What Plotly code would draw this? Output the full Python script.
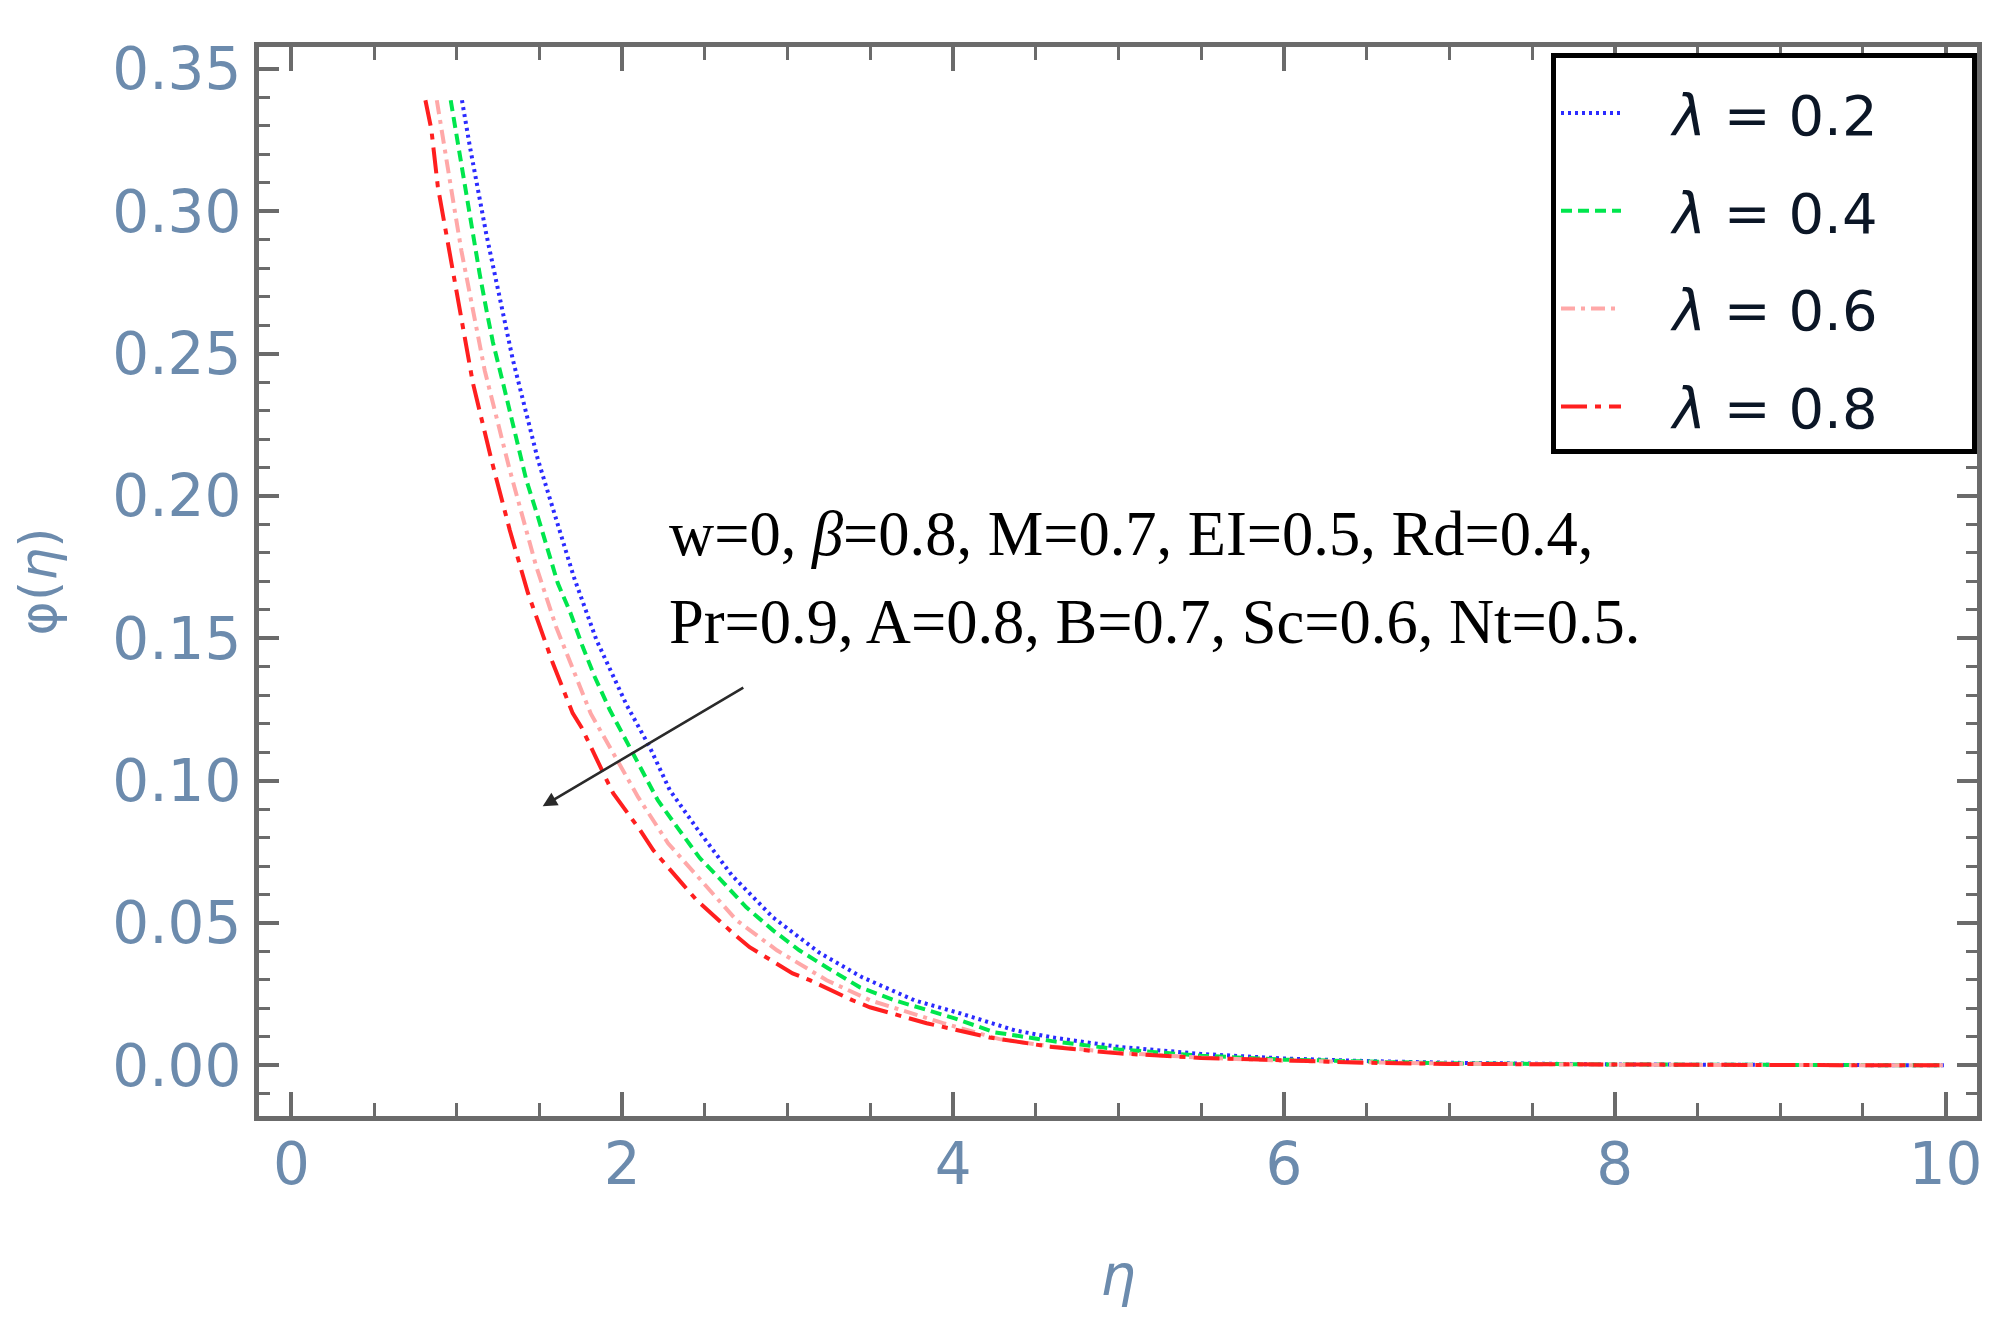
import plotly.graph_objects as go

# ---------------- data ----------------
eta_l02 = [1.031, 1.078, 1.178, 1.248, 1.338, 1.489, 1.64, 1.707, 1.844, 2.027, 2.166, 2.287,
           2.45, 2.662, 2.91, 3.195, 3.448, 3.768, 4.04, 4.373, 4.6, 5.0, 5.5, 6.0, 6.5, 7.0,
           8.0, 9.0, 10.0]
phi_l02 = [0.339, 0.323, 0.292, 0.272, 0.248, 0.213, 0.1845, 0.1716, 0.1494, 0.1265, 0.1118,
           0.0967, 0.0833, 0.0668, 0.052, 0.0394, 0.031, 0.0228, 0.0183, 0.0123, 0.0098,
           0.0065, 0.0040, 0.0024, 0.0015, 0.0009, 0.0003, 0.0001, 0.0]

eta_l04 = [0.963, 0.997, 1.03, 1.066, 1.097, 1.138, 1.18, 1.218, 1.279, 1.42, 1.49, 1.61,
           1.687, 1.761, 1.834, 1.925, 2.016, 2.118, 2.215, 2.336, 2.469, 2.61, 2.75, 2.91,
           3.07, 3.244, 3.437, 3.649, 4.01, 4.25, 4.6, 5.0, 5.5, 6.0, 6.5, 7.0, 8.0, 9.0, 10.0]
phi_l04 = [0.339, 0.327, 0.315, 0.302, 0.291, 0.278, 0.265, 0.254, 0.2397, 0.2056, 0.1927,
           0.1694, 0.1589, 0.147, 0.1364, 0.1248, 0.1149, 0.1037, 0.0931, 0.0833, 0.0728,
           0.0643, 0.0555, 0.0475, 0.0404, 0.0341, 0.0274, 0.0228, 0.0165, 0.0116, 0.0085,
           0.0056, 0.0034, 0.0020, 0.0012, 0.0007, 0.0003, 0.0001, 0.0]

eta_l06 = [0.879, 0.927, 0.988, 1.028, 1.088, 1.169, 1.32, 1.48, 1.60, 1.713, 1.81, 1.945,
           2.096, 2.277, 2.489, 2.69, 2.935, 3.236, 3.5, 3.94, 4.28, 4.6, 5.0, 5.5, 6.0, 6.5,
           7.0, 8.0, 9.0, 10.0]
phi_l06 = [0.339, 0.321, 0.300, 0.286, 0.268, 0.244, 0.2091, 0.1752, 0.154, 0.138, 0.1235,
           0.1097, 0.0942, 0.078, 0.064, 0.051, 0.0404, 0.0299, 0.0228, 0.0148, 0.0092,
           0.0066, 0.0044, 0.0027, 0.0016, 0.0010, 0.0006, 0.0002, 0.0001, 0.0]

eta_l08 = [0.81, 0.846, 0.885, 0.957, 1.028, 1.097, 1.209, 1.32, 1.43, 1.58, 1.70, 1.753,
           1.915, 1.945, 2.108, 2.187, 2.36, 2.45, 2.67, 2.77, 3.03, 3.134, 3.394, 3.497,
           3.84, 4.22, 4.6, 5.0, 5.5, 6.0, 6.5, 7.0, 8.0, 9.0, 10.0]
phi_l08 = [0.339, 0.3287, 0.3087, 0.2854, 0.2619, 0.2397, 0.2127, 0.188, 0.1659, 0.1413,
           0.1237, 0.1188, 0.0991, 0.0956, 0.0826, 0.0756, 0.064, 0.058, 0.0464, 0.0415,
           0.0323, 0.0299, 0.0228, 0.0204, 0.0148, 0.0098, 0.0064, 0.0042, 0.0026, 0.0016,
           0.0009, 0.0005, 0.0002, 0.0001, 0.0]

lambda_values = ["0.2", "0.4", "0.6", "0.8"]
x_ticks = [0, 2, 4, 6, 8, 10]
y_ticks = [0.00, 0.05, 0.10, 0.15, 0.20, 0.25, 0.30, 0.35]
y_tick_text = ["0.00", "0.05", "0.10", "0.15", "0.20", "0.25", "0.30", "0.35"]
param_line1 = "w=0, <i>β</i>=0.8, M=0.7, EI=0.5, Rd=0.4,"
param_line2 = "Pr=0.9, A=0.8, B=0.7, Sc=0.6, Nt=0.5."

# ---------------- styling ----------------
series_x = [eta_l02, eta_l04, eta_l06, eta_l08]
series_y = [phi_l02, phi_l04, phi_l06, phi_l08]
colors = ["#2b2bff", "#00e64d", "#ffa8a8", "#ff1f1f"]
dashes = ["3px,4px", "11px,6px", "14px,6px,4px,6px", "26px,8px,6px,8px"]

frame_col = "#6b6b6b"
label_col = "#6c8bad"
tick_font = dict(family="DejaVu Sans", size=58, color=label_col)
NB = "\u00a0"
THIN = "\u2009"

fig = go.Figure()
for i in range(4):
    fig.add_trace(go.Scatter(
        x=series_x[i], y=series_y[i], mode="lines",
        name=NB * 2 + THIN + "<i>λ</i> = " + lambda_values[i] + NB * 5,
        legendgroup="g" + str(i),
        line=dict(color=colors[i], width=4, dash=dashes[i]),
    ))

fig.add_annotation(x=2.269, y=0.1865, xref="x", yref="y", text=param_line1,
                   showarrow=False, xanchor="left", yanchor="middle",
                   font=dict(family="Liberation Serif", size=62.5, color="#000000"))
fig.add_annotation(x=2.269, y=0.1556, xref="x", yref="y", text=param_line2,
                   showarrow=False, xanchor="left", yanchor="middle",
                   font=dict(family="Liberation Serif", size=62.5, color="#000000"))
fig.add_annotation(x=1.519, y=0.091, ax=2.741, ay=0.133, xref="x", yref="y",
                   axref="x", ayref="y", text="", showarrow=True,
                   arrowhead=2, arrowsize=1.1, arrowwidth=2.6, arrowcolor="#2a2a2a")

fig.update_layout(
    width=1989, height=1320,
    margin=dict(l=251, r=20, t=39, b=212),
    paper_bgcolor="white", plot_bgcolor="white",
    showlegend=True,
    legend=dict(
        x=1.0, xanchor="right", y=0.994, yanchor="top",
        bgcolor="white", bordercolor="#000000", borderwidth=5,
        font=dict(family="DejaVu Sans", size=56, color="#0b1626"),
        itemwidth=60, tracegroupgap=22, traceorder="grouped",
        title=dict(text=NB, font=dict(family="DejaVu Sans", size=9)),
    ),
    xaxis=dict(
        range=[-0.196, 10.19], tickvals=x_ticks,
        ticks="inside", ticklen=24, tickwidth=4, tickcolor=frame_col,
        showline=True, linewidth=5, linecolor=frame_col, mirror="ticks",
        showgrid=False, zeroline=False,
        minor=dict(dtick=0.5, tick0=0, ticks="inside", ticklen=13, tickwidth=3,
                   tickcolor=frame_col, showgrid=False),
        tickfont=tick_font, ticklabelstandoff=-7,
        title=dict(text="<i>η</i>", font=dict(family="DejaVu Sans", size=56, color=label_col),
                   standoff=61),
    ),
    yaxis=dict(
        range=[-0.0178, 0.3577], tickvals=y_ticks, ticktext=y_tick_text,
        ticks="inside", ticklen=20, tickwidth=4, tickcolor=frame_col,
        showline=True, linewidth=5, linecolor=frame_col, mirror="ticks",
        showgrid=False, zeroline=False,
        minor=dict(dtick=0.01, tick0=0, ticks="inside", ticklen=11, tickwidth=3,
                   tickcolor=frame_col, showgrid=False),
        tickfont=tick_font, ticklabelstandoff=1,
        title=dict(text="φ(<i>η</i>)", font=dict(family="DejaVu Sans", size=52, color=label_col),
                   standoff=41),
    ),
)

fig.write_html("out.html")
